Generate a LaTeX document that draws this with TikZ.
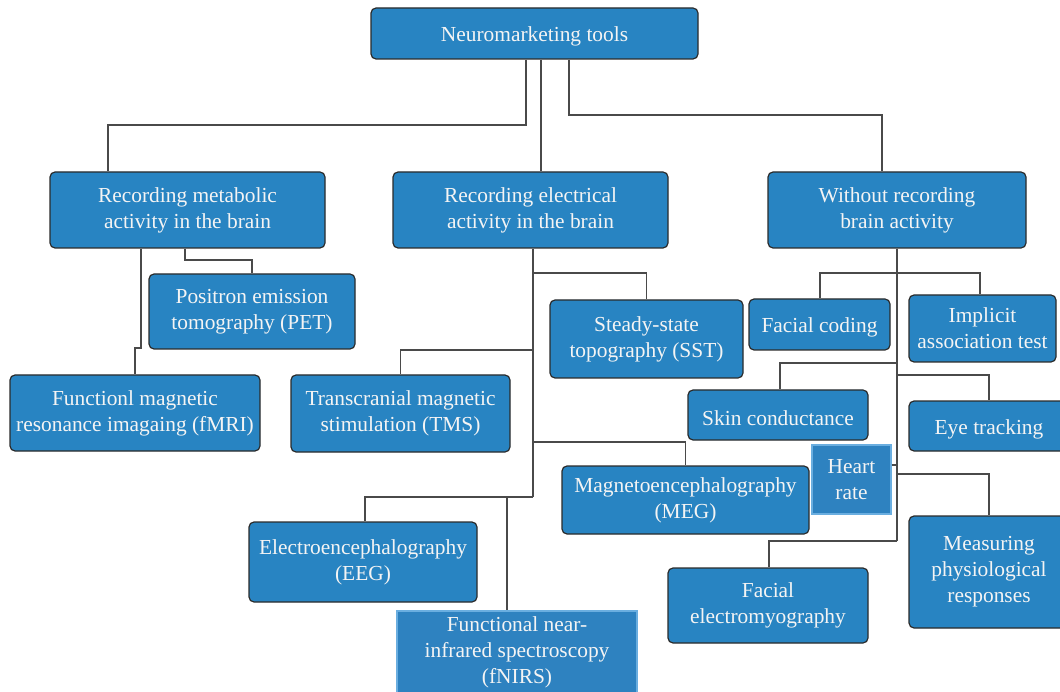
\documentclass[tikz,border=0pt]{standalone}
\usepackage{fontspec}
\setmainfont{Liberation Serif}
\definecolor{boxfill}{HTML}{2884C2}
\definecolor{boxfillb}{HTML}{2E82C0}
\definecolor{boxedge}{HTML}{2B2B2B}
\definecolor{boxedgeb}{HTML}{6AAEE0}
\definecolor{linecol}{HTML}{4A4A4A}
\definecolor{txt}{HTML}{F4F4F4}
\tikzset{
  box/.style={draw=boxedge, line width=1.2pt, fill=boxfill, rounded corners=5pt,
    text=txt, align=center, inner sep=0pt,
    font=\fontsize{21.4}{26}\selectfont,
    execute at begin node={\rule{0pt}{21pt}}},
  sqbox/.style={box, rounded corners=0pt, draw=boxedgeb, fill=boxfillb},
  conn/.style={draw=linecol, line width=1.2pt}
}
\begin{document}
\begin{tikzpicture}[x=1pt,y=-1pt]
\useasboundingbox (0,0) rectangle (1060,692);
% nodes
\node[box, minimum width=327, minimum height=51] (root) at (534.5,33.5) {Neuromarketing tools};
\node[box, minimum width=275, minimum height=76] (met) at (187.5,210) {Recording metabolic\\activity in the brain};
\node[box, minimum width=275, minimum height=76] (ele) at (530.5,210) {Recording electrical\\activity in the brain};
\node[box, minimum width=258, minimum height=76] (wo) at (897,210) {Without recording\\brain activity};
\node[box, minimum width=206, minimum height=75] (pet) at (252,311.5) {Positron emission\\tomography (PET)};
\node[box, minimum width=250, minimum height=76] (fmri) at (135,413) {Functionl magnetic\\resonance imagaing (fMRI)};
\node[box, minimum width=219, minimum height=77] (tms) at (400.5,413.5) {Transcranial magnetic\\stimulation (TMS)};
\node[box, minimum width=193, minimum height=78] (sst) at (646.5,339) {Steady-state\\topography (SST)};
\node[box, minimum width=141, minimum height=51] (fc) at (819.5,324.5) {Facial coding};
\node[box, minimum width=147, minimum height=67] (iat) at (982.5,328.5) {Implicit\\association test};
\node[box, minimum width=180, minimum height=50] (skin) at (778,415) {Skin conductance};
\node[box, minimum width=160, minimum height=50] (eye) at (989,426) {Eye tracking};
\node[sqbox, minimum width=79, minimum height=69] (hr) at (851.5,479.5) {Heart\\rate};
\node[box, minimum width=247, minimum height=68] (meg) at (685.5,500) {Magnetoencephalography\\(MEG)};
\node[box, minimum width=228, minimum height=80] (eeg) at (363,562) {Electroencephalography\\(EEG)};
\node[sqbox, minimum width=240, minimum height=82] (fnirs) at (517,652) {Functional near-\\infrared spectroscopy\\(fNIRS)};
\node[box, minimum width=200, minimum height=75] (femg) at (768,605.5) {Facial\\electromyography};
\node[box, minimum width=160, minimum height=112] (meas) at (989,572) {Measuring\\physiological\\responses};
% connectors: top level
\draw[conn] (root.south -| 526,0) |- (108,125) -- (108,0 |- met.north);
\draw[conn] (root.south -| 541,0) -- (541,0 |- ele.north);
\draw[conn] (root.south -| 569,0) |- (882,115) -- (882,0 |- wo.north);
% metabolic
\draw[conn] (met.south -| 141,0) -- (141,348) -- (135,348) -- (135,0 |- fmri.north);
\draw[conn] (met.south -| 185,0) |- (252,260) -- (pet.north);
% electrical
\draw[conn] (ele.south -| 533,0) -- (533,497);
\draw[conn] (533,273) -| (sst.north);
\draw[conn] (533,350) -| (tms.north);
\draw[conn] (533,442) -| (meg.north);
\draw[conn] (533,497) -| (365,0 |- eeg.north);
\draw[conn] (507,497) -- (507,0 |- fnirs.north);
% without
\draw[conn] (wo.south -| 897,0) -- (897,541);
\draw[conn] (fc.north -| 820,0) |- (980,273) -- (980,0 |- iat.north);
\draw[conn] (897,363) -| (780,0 |- skin.north);
\draw[conn] (897,375) -| (eye.north);
\draw[conn] (hr.east |- 0,465) -- (897,465);
\draw[conn] (897,474) -| (meas.north);
\draw[conn] (897,541) -| (769,0 |- femg.north);
\end{tikzpicture}
\end{document}
